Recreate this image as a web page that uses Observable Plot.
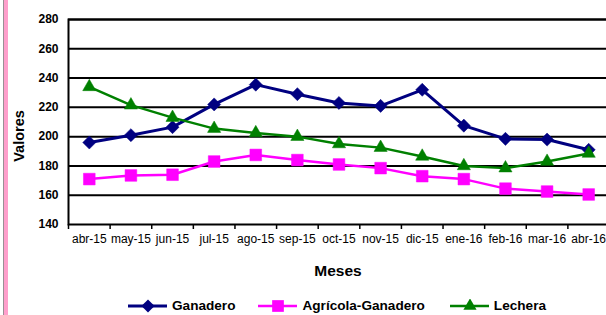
<!DOCTYPE html>
<html>
<head>
<meta charset="utf-8">
<script src="https://cdn.jsdelivr.net/npm/d3@7"></script>
<script src="https://cdn.jsdelivr.net/npm/@observablehq/plot@0.6"></script>
<style>
  html, body { margin: 0; padding: 0; background: white; }
  body { width: 606px; height: 315px; overflow: hidden; position: relative; font-family: "Liberation Sans", Arial, sans-serif; }
  #stripe { position: absolute; left: 3px; top: 0; width: 4px; height: 315px; background: #ff9fcc; border-left: 1px solid #9a8f95; }
  #chart { position: absolute; left: 0; top: 0; }
  #ylabel { position: absolute; left: 19px; top: 136px; transform: translate(-50%, -50%) rotate(-90deg); font-weight: bold; font-size: 14.5px; white-space: nowrap; }
  #xlabel { position: absolute; left: 338px; top: 262px; transform: translateX(-50%); font-weight: bold; font-size: 15.5px; }
  #legend { position: absolute; left: 128px; top: 298px; display: flex; align-items: center; font-weight: bold; font-size: 13.6px; line-height: 15px; white-space: nowrap; }
  .item { display: flex; align-items: center; }
  .item svg { margin-right: 5px; }
</style>
</head>
<body>
<div id="stripe"></div>
<div id="chart"></div>
<div id="ylabel">Valores</div>
<div id="xlabel">Meses</div>
<div id="legend"></div>
<script>
const months = ["abr-15","may-15","jun-15","jul-15","ago-15","sep-15","oct-15","nov-15","dic-15","ene-16","feb-16","mar-16","abr-16"];
const ganadero = [196, 201, 206.5, 222, 235.5, 229, 223, 221, 232, 207.5, 198.5, 198, 191];
const agricolaGanadero = [171, 173.5, 174, 183, 187.5, 184, 181, 178.5, 173, 171, 164.5, 162.5, 160.5];
const lechera = [234, 221.5, 213, 205.5, 202.5, 200, 195, 192.5, 186.5, 180, 178.5, 183, 188.5];
const yTicks = [140, 160, 180, 200, 220, 240, 260, 280];

const series = [
  {name: "Ganadero", values: ganadero, color: "#000080", symbol: "diamond2", r: 5.9, width: 3},
  {name: "Agrícola-Ganadero", values: agricolaGanadero, color: "#ff00ff", symbol: "square", r: 6.6, width: 2.5},
  {name: "Lechera", values: lechera, color: "#008000", symbol: "triangle", r: 4.9, width: 2.5}
];

const rows = series.flatMap(s => s.values.map((v, i) => ({series: s.name, i, month: months[i], value: v})));
const boundaries = d3.range(months.length + 1).map(i => i - 0.5);

const marks = [
  Plot.ruleY(yTicks.slice(1), {stroke: "black", strokeWidth: 2}),
  Plot.frame({stroke: "black", strokeWidth: 2}),
  Plot.axisY({ticks: yTicks, tickSize: 0, tickPadding: 10, fontWeight: "bold", fontSize: 12, label: null}),
  Plot.axisX({ticks: boundaries, tickSize: 5, tickFormat: () => "", label: null, strokeWidth: 1.5}),
  Plot.axisX({ticks: months.map((_, i) => i), tickSize: 0, tickPadding: 10, tickFormat: i => months[i], fontSize: 12, label: null})
];
for (const s of series) {
  const data = rows.filter(d => d.series === s.name);
  marks.push(Plot.line(data, {x: "i", y: "value", stroke: s.color, strokeWidth: s.width}));
  marks.push(Plot.dot(data, {x: "i", y: "value", symbol: () => s.symbol, r: s.r, fill: s.color, stroke: s.color, strokeWidth: 0.5}));
}

const chart = Plot.plot({
  width: 606,
  height: 250,
  marginTop: 19,
  marginBottom: 26,
  marginLeft: 68,
  marginRight: -3,
  style: {fontFamily: "'Liberation Sans', Arial, sans-serif", color: "black", background: "transparent", overflow: "visible"},
  x: {type: "linear", domain: [-0.5, months.length - 0.5]},
  y: {domain: [140, 280]},
  symbol: {type: "identity"},
  marks
});
document.getElementById("chart").appendChild(chart);

// legend
const legend = document.getElementById("legend");
const gaps = [23, 25, 0];
series.forEach((s, k) => {
  const item = document.createElement("div");
  item.className = "item";
  item.style.marginRight = gaps[k] + "px";
  const sym = d3.symbol({diamond2: d3.symbolDiamond2, square: d3.symbolSquare, triangle: d3.symbolTriangle}[s.symbol], Math.PI * s.r * s.r)();
  item.innerHTML = `<svg width="39" height="14" viewBox="0 0 39 14"><line x1="0" x2="39" y1="7" y2="7" stroke="${s.color}" stroke-width="${s.width}"/><path transform="translate(20,7)" d="${sym}" fill="${s.color}"/></svg><span>${s.name}</span>`;
  legend.appendChild(item);
});
</script>
</body>
</html>
